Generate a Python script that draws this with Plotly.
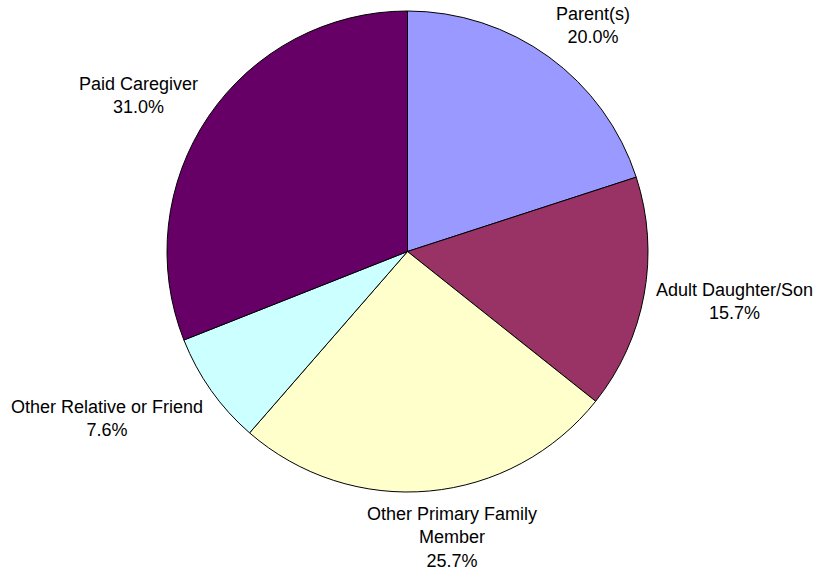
import plotly.graph_objects as go

labels = ["Parent(s)", "Adult Daughter/Son", "Other Primary Family Member",
          "Other Relative or Friend", "Paid Caregiver"]
label_text = ["Parent(s)<br>20.0%", "Adult Daughter/Son<br>15.7%",
              "Other Primary Family<br>Member<br>25.7%",
              "Other Relative or Friend<br>7.6%", "Paid Caregiver<br>31.0%"]
values = [20.0, 15.7, 25.7, 7.6, 31.0]
colors = ["#9999FF", "#993366", "#FFFFCC", "#CCFFFF", "#660066"]

W, H = 817, 572
cx, cy, R = 407.5, 251.5, 240.5

fig = go.Figure(go.Pie(
    labels=labels, values=values, sort=False, direction="clockwise", rotation=0,
    marker=dict(colors=colors, line=dict(color="black", width=1)),
    textinfo="none", hoverinfo="label+percent", showlegend=False,
    domain=dict(x=[(cx - R) / W, (cx + R) / W], y=[1 - (cy + R) / H, 1 - (cy - R) / H]),
))

# label placement (pixel centers of text blocks)
label_pos = [(593, 26), (734, 301), (452, 537), (107, 418), (138, 96)]
for t, (px, py) in zip(label_text, label_pos):
    fig.add_annotation(text=t, x=px / W, y=1 - py / H,
                       xref="paper", yref="paper",
                       xanchor="center", yanchor="middle", showarrow=False,
                       font=dict(family="Liberation Sans, Arial", size=18, color="black"))

fig.update_layout(width=W, height=H, margin=dict(l=0, r=0, t=0, b=0),
                  paper_bgcolor="white", plot_bgcolor="white")
fig.write_html("out.html", config={"displayModeBar": False},
               post_script="document.body.style.margin='0';document.body.style.overflow='hidden';")
